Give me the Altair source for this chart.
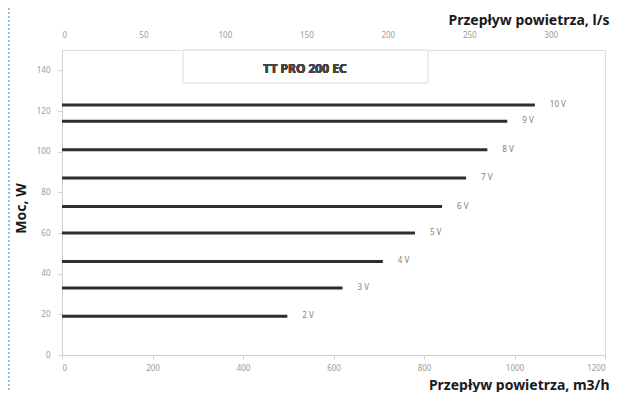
import altair as alt
import pandas as pd

# Data
voltages = ["10 V", "9 V", "8 V", "7 V", "6 V", "5 V", "4 V", "3 V", "2 V"]
power_w = [123, 115, 101, 87, 73, 60, 46, 33, 19]
flow_m3h = [1045, 984, 940, 893, 840, 780, 709, 620, 498]

bottom_ticks = [0, 200, 400, 600, 800, 1000, 1200]
top_ticks = [0, 50, 100, 150, 200, 250, 300]
y_ticks = [0, 20, 40, 60, 80, 100, 120, 140]

df = pd.DataFrame({"napiecie": voltages, "moc": power_w, "przeplyw": flow_m3h})

FONT = "Noto Sans"
LBL = "#9a9a9a"

xscale = alt.Scale(domain=[0, 1200], nice=False, zero=True)
yscale = alt.Scale(domain=[0, 150], nice=False)

base = alt.Chart(df).transform_calculate(start="0", ls="datum.przeplyw / 3.6")

lines = base.mark_rule(strokeWidth=3, color="#2e2e2e", strokeCap="butt").encode(
    x=alt.X("start:Q", scale=xscale,
            axis=alt.Axis(values=bottom_ticks, format="d", title="Przepływ powietrza, m3/h",
                          grid=False, domainColor="#d0d0d0", tickColor="#d0d0d0",
                          tickSize=4, labelPadding=5, labelFontSize=8, labelColor=LBL,
                          labelFont=FONT, titleFont=FONT, titleFontSize=14,
                          titleFontWeight="bold", titleColor="#1a1a1a",
                          titleAlign="right", titleAnchor="end", titleX=547, titleY=34,
                          titleBaseline="alphabetic")),
    x2="przeplyw:Q",
    y=alt.Y("moc:Q", scale=yscale,
            axis=alt.Axis(values=y_ticks, title="Moc, W", grid=False,
                          domainColor="#d0d0d0", tickColor="#d0d0d0", tickSize=4,
                          labelPadding=8, labelFontSize=8, labelColor=LBL, labelFont=FONT,
                          titleFont=FONT, titleFontSize=14, titleFontWeight="bold",
                          titleColor="#1a1a1a", titleAngle=270, titleAlign="center",
                          titleX=-37, titleY=158, titleBaseline="alphabetic")),
)

labels = base.mark_text(align="left", baseline="middle", dx=15, fontSize=8,
                        color="#808080", font=FONT).encode(
    x=alt.X("przeplyw:Q", scale=xscale, axis=None),
    y=alt.Y("moc:Q", scale=yscale),
    text="napiecie:N",
)

top_axis = base.mark_point(opacity=0).encode(
    x=alt.X("ls:Q", scale=alt.Scale(domain=[0, 1200 / 3.6], nice=False),
            axis=alt.Axis(orient="top", values=top_ticks, format="d",
                          title="Przepływ powietrza, l/s",
                          grid=False, domain=False, ticks=False, labelPadding=11,
                          labelFontSize=8, labelColor=LBL, labelFont=FONT,
                          titleFont=FONT, titleFontSize=14, titleFontWeight="bold",
                          titleColor="#1a1a1a", titleAlign="right", titleAnchor="end",
                          titleX=547, titleY=-26, titleBaseline="alphabetic")),
    y=alt.Y("moc:Q", scale=yscale),
)

title_box = alt.Chart(df).mark_rect(fill="white", fillOpacity=0, stroke="#ebebeb",
                                    strokeWidth=1).encode(
    x=alt.value(121), x2=alt.value(366), y=alt.value(0), y2=alt.value(33))

title_txt = alt.Chart(df).mark_text(text="TT PRO 200 EC", font=FONT, fontSize=12,
                                    fontWeight="bold", color="#444444",
                                    align="center", baseline="middle").encode(
    x=alt.value(243), y=alt.value(19))

border = alt.Chart(df).mark_rule(color="#8fc0e6", strokeWidth=2, strokeDash=[2, 2]).encode(
    x=alt.value(-53), y=alt.value(-42), y2=alt.value(342))

chart = alt.layer(title_box, title_txt, lines, labels, top_axis, border).resolve_scale(
    x="independent"
).properties(
    width=543, height=305,
    autosize=alt.AutoSizeParams(type="none"),
    padding={"left": 54, "top": 42, "right": 6, "bottom": 37},
).configure_view(stroke=None).configure(background="white")

chart.save("out.html", embed_options={"renderer": "svg", "actions": False})
